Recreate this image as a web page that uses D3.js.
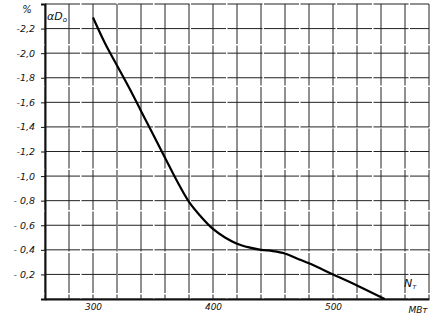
<!DOCTYPE html>
<html><head><meta charset="utf-8">
<script src="https://cdn.jsdelivr.net/npm/d3@7"></script>
<style>
html,body{margin:0;padding:0;background:#fff;}
text{font-family:"DejaVu Sans",sans-serif;font-style:italic;fill:#111;}
</style></head>
<body><svg id="c" width="438" height="321"></svg>
<script>
const power = [300,310,320,330,340,350,360,370,380,390,400,410,420,430,440,450,460,470,480,500,520,543];
const alphaD = [-2.29,-2.08,-1.90,-1.72,-1.53,-1.34,-1.15,-0.96,-0.79,-0.67,-0.57,-0.50,-0.45,-0.42,-0.40,-0.39,-0.37,-0.33,-0.29,-0.20,-0.11,0];
const xTicks = [300,400,500];
const yTicks = [-0.2,-0.4,-0.6,-0.8,-1.0,-1.2,-1.4,-1.6,-1.8,-2.0,-2.2];
const xGrid = d3.range(260, 581, 20);
const yGrid = d3.range(0, 13).map(i => -0.2*i);

const svg = d3.select("#c");
const L = 45, R = 429, T = 4, B = 299;
const x = d3.scaleLinear().domain([260,580]).range([L,R]);
const y = d3.scaleLinear().domain([0,-2.4]).range([B,T]);

// grid
svg.append("g").selectAll("line").data(xGrid).join("line")
  .attr("x1", d=>x(d)).attr("x2", d=>x(d)).attr("y1", T).attr("y2", B)
  .attr("stroke", "#222").attr("stroke-width", 1).attr("stroke-dasharray","40,1.5");
svg.append("g").selectAll("line").data(yGrid).join("line")
  .attr("y1", d=>y(d)).attr("y2", d=>y(d)).attr("x1", L).attr("x2", R)
  .attr("stroke", "#222").attr("stroke-width", 1).attr("stroke-dasharray","35,1.5");

// axes
const fmt = d => d.toFixed(1).replace(".", ",").replace("-0,", "- 0,");
svg.append("g").attr("transform", `translate(${L},0)`)
  .call(d3.axisLeft(y).tickValues(yTicks).tickSize(4).tickPadding(6).tickFormat(fmt))
  .call(g => g.select(".domain").attr("stroke","#111").attr("stroke-width",2))
  .call(g => g.selectAll(".tick line").attr("stroke","#111"))
  .call(g => g.selectAll("text").attr("font-size", 9.5).style("font-style","italic"));
svg.append("g").attr("transform", `translate(0,${B})`)
  .call(d3.axisBottom(x).tickValues(xTicks).tickSize(0).tickPadding(5).tickFormat(d3.format("d")))
  .call(g => g.select(".domain").attr("stroke","#111").attr("stroke-width",2))
  .call(g => g.selectAll("text").attr("font-size", 9).style("font-style","italic"));

// curve
svg.append("path").datum(power.map((p,i)=>[p, alphaD[i]]))
  .attr("fill","none").attr("stroke","#000").attr("stroke-width",2.2)
  .attr("d", d3.line().x(d=>x(d[0])).y(d=>y(d[1])).curve(d3.curveMonotoneX));

// labels
svg.append("text").attr("x", 27).attr("y", 13).attr("font-size", 10).attr("text-anchor","middle").text("%");
const a = svg.append("text").attr("x", 47).attr("y", 20).attr("font-size", 11);
a.append("tspan").text("αD");
a.append("tspan").attr("font-size", 7).attr("dy", 2).text("o");
const n = svg.append("text").attr("x", 404).attr("y", 287).attr("font-size", 11);
n.append("tspan").text("N");
n.append("tspan").attr("font-size", 7).attr("dy", 2).text("т");
svg.append("text").attr("x", 418).attr("y", 313).attr("font-size", 9).attr("text-anchor","middle").text("МВт");
</script></body></html>
